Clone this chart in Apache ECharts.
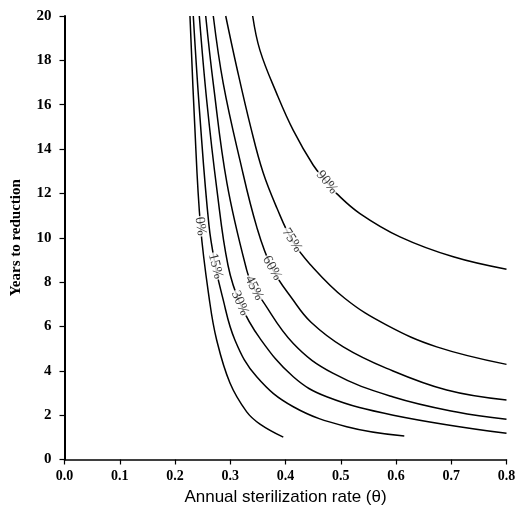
<!DOCTYPE html>
<html><head><meta charset="utf-8">
<script src="https://cdn.jsdelivr.net/npm/echarts@6/dist/echarts.min.js"></script>
<style>html,body{margin:0;padding:0;background:#fff}#c{width:520px;height:522px}</style>
</head><body><div id="c"></div>
<script>
// ---- data: contour lines (theta, years) ----
const levels = ['0%', '15%', '30%', '45%', '60%', '75%', '90%'];
const c0  = [[0.2271,20],[0.2353,15.29],[0.2462,10.52],[0.2624,7.18],[0.2755,5.38],[0.2995,3.45],[0.3298,2.15],[0.3538,1.60],[0.3960,1.01]];
const c15 = [[0.2331,20],[0.2452,15.43],[0.2615,10.56],[0.2733,8.72],[0.2851,7.41],[0.3086,5.38],[0.3479,3.73],[0.4141,2.38],[0.5108,1.48],[0.6150,1.06]];
const c30 = [[0.2440,20],[0.2574,16.19],[0.2760,12.14],[0.2959,8.76],[0.3176,7.05],[0.3538,5.46],[0.4141,3.73],[0.4746,2.83],[0.5951,2.00],[0.8,1.18]];
const c45 = [[0.2556,20],[0.2693,16.95],[0.2941,12.45],[0.3298,8.54],[0.3430,7.73],[0.3538,7.32],[0.4141,5.23],[0.4865,3.88],[0.5951,2.82],[0.7099,2.14],[0.8,1.81]];
const c60 = [[0.2693,20],[0.2874,16.95],[0.3176,13.49],[0.3479,10.49],[0.3756,8.63],[0.4141,7.18],[0.4462,6.19],[0.5046,5.08],[0.5832,4.11],[0.6918,3.13],[0.8,2.68]];
const c75 = [[0.2918,20],[0.3117,17.69],[0.3376,14.93],[0.3593,12.95],[0.3846,11.33],[0.4118,9.89],[0.4443,8.81],[0.5077,7.26],[0.5832,6.06],[0.6737,5.08],[0.8,4.29]];
const c90 = [[0.3406,20],[0.3538,18.45],[0.3841,16.50],[0.4141,14.84],[0.4503,13.27],[0.4751,12.50],[0.4927,11.99],[0.5348,11.09],[0.6072,10.04],[0.7037,9.14],[0.8,8.58]];
const curves = [c0, c15, c30, c45, c60, c75, c90];
// label anchor points on each contour (theta, years)
const labelTheta = [0.2462, 0.2733, 0.3176, 0.3430, 0.3756, 0.4118, 0.4751];
const labelYears = [10.52, 8.72, 7.05, 7.73, 8.63, 9.89, 12.50];
const xTickLabels = ['0.0','0.1','0.2','0.3','0.4','0.5','0.6','0.7','0.8'];

// ---- styles ----
const labelRotate = [-82, -76, -66, -63, -60, -57, -51];
const serif = 'Liberation Serif';

const chart = echarts.init(document.getElementById('c'), null, {renderer: 'canvas'});
const series = curves.map((d, i) => ({
  type: 'line', name: levels[i], data: d, showSymbol: false, smooth: 0.4,
  lineStyle: {color: '#000', width: 1.5}, silent: true, z: 2
}));
series.push({
  type: 'scatter', z: 5, symbolSize: 0, silent: true,
  data: levels.map((t, i) => ({
    value: [labelTheta[i], labelYears[i]],
    label: {show: true, formatter: t, rotate: labelRotate[i]}
  })),
  label: {position: 'inside', color: '#000', fontFamily: serif, fontSize: 14,
          backgroundColor: '#fff', padding: [0, 1], align: 'center', verticalAlign: 'middle'}
});
chart.setOption({
  animation: false,
  backgroundColor: '#fff',
  grid: {left: 64.5, right: 13.5, top: 16, bottom: 62.5, containLabel: false},
  xAxis: {
    type: 'value', min: 0, max: 0.8, interval: 0.1,
    name: 'Annual sterilization rate (\u03b8)', nameLocation: 'middle', nameGap: 26,
    nameTextStyle: {fontFamily: 'Liberation Sans', fontSize: 17, color: '#000'},
    axisLine: {show: true, lineStyle: {color: '#000', width: 1.5}},
    axisTick: {show: true, length: 5, lineStyle: {color: '#000', width: 1.2}},
    axisLabel: {color: '#000', fontFamily: serif, fontWeight: 'bold', fontSize: 14, margin: 10,
                formatter: (v) => xTickLabels[Math.round(v * 10)]},
    splitLine: {show: false}
  },
  yAxis: {
    type: 'value', min: 0, max: 20, interval: 2,
    name: 'Years to reduction', nameLocation: 'middle', nameGap: 41,
    nameTextStyle: {fontFamily: serif, fontWeight: 'bold', fontSize: 15, color: '#000'},
    axisLine: {show: true, lineStyle: {color: '#000', width: 2}},
    axisTick: {show: true, length: 5, lineStyle: {color: '#000', width: 1.2}},
    axisLabel: {color: '#000', fontFamily: serif, fontWeight: 'bold', fontSize: 15, margin: 13},
    splitLine: {show: false}
  },
  series: series
});
</script></body></html>
